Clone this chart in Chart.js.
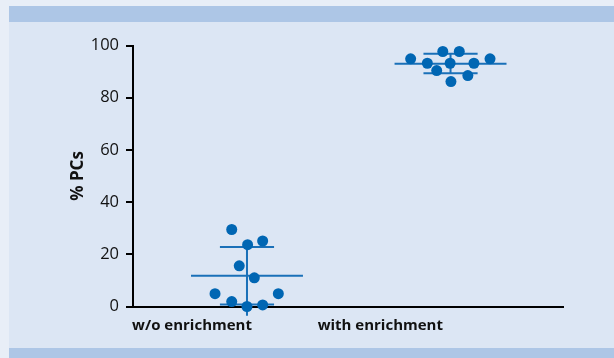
<!DOCTYPE html>
<html>
<head>
<meta charset="utf-8">
<script src="https://cdn.jsdelivr.net/npm/chart.js@4"></script>
<style>
  body { margin: 0; background: #e8eef7; }
  #wrap { position: relative; width: 614px; height: 358px; }
  #panel { position: absolute; left: 9px; top: 6px; right: 0; bottom: 0; background: #dce6f4; }
  #topbar { position: absolute; left: 9px; top: 6px; right: 0; height: 16px; background: #adc6e6; }
  #botbar { position: absolute; left: 9px; top: 348px; right: 0; bottom: 0; background: #adc6e6; }
  canvas { position: absolute; left: 0; top: 0; }
</style>
</head>
<body>
<div id="wrap">
  <div id="panel"></div>
  <div id="topbar"></div>
  <div id="botbar"></div>
  <canvas id="pcs" width="614" height="358"></canvas>
</div>

<script>

/* SCATTER: % PCs with / without enrichment */

const groupLabels = ['w/o enrichment', 'with enrichment'];

// individual values, x = group index + jitter as seen in the picture
const pointsWithout = [
    {x: 0.925, y: 29.5}, {x: 1.003, y: 23.7}, {x: 1.077, y: 25.1},
    {x: 0.962, y: 15.6}, {x: 1.036, y: 11.0}, {x: 0.843, y: 4.9},
    {x: 1.154, y: 4.9},  {x: 0.925, y: 1.9},  {x: 1.0,   y: 0},
    {x: 1.077, y: 0.6}
];
const pointsWith = [
    {x: 1.804, y: 94.9}, {x: 1.886, y: 93.2}, {x: 1.962, y: 97.7},
    {x: 2.043, y: 97.7}, {x: 1.998, y: 93.2}, {x: 1.932, y: 90.4},
    {x: 2.115, y: 93.2}, {x: 2.194, y: 94.9}, {x: 2.085, y: 88.5},
    {x: 2.002, y: 86.2}
];

const means   = [11.8, 93.0];
const sdUpper = [22.8, 96.8];
const sdLower = [0.8, 89.4];
const whiskerEnd = [-3.5, 89.4];   // vertical bar bottom (w/o one runs below the axis)

const yTicks = [0, 20, 40, 60, 80, 100];

const dotColor = '#0066b3';
const barColor = '#1a70b8';
const meanHalf = 0.275;
const capHalf = 0.133;
const labelAt = [0.73, 1.655];

function seg(x1, y1, x2, y2) {
    return {
        type: 'line',
        data: [{x: x1, y: y1}, {x: x2, y: y2}],
        borderColor: barColor,
        borderWidth: 2,
        pointRadius: 0,
        showLine: true,
        clip: false,
        order: 2
    };
}

const datasets = [];
for (let i = 0; i < means.length; i++) {
    const c = i + 1;
    datasets.push(seg(c - meanHalf, means[i], c + meanHalf, means[i]));
    datasets.push(seg(c - capHalf, sdUpper[i], c + capHalf, sdUpper[i]));
    datasets.push(seg(c - capHalf, sdLower[i], c + capHalf, sdLower[i]));
    datasets.push(seg(c, sdUpper[i], c, whiskerEnd[i]));
}
[pointsWithout, pointsWith].forEach(function(pts) {
    datasets.push({
        type: 'scatter',
        data: pts,
        backgroundColor: dotColor,
        borderColor: dotColor,
        borderWidth: 0,
        pointRadius: 5.5,
        clip: false,
        order: 1
    });
});

const ctx = document.getElementById('pcs').getContext('2d');
const chart = new Chart(ctx, {
    type: 'scatter',
    data: { datasets: datasets },
    options: {
        responsive: false,
        animation: false,
        layout: { padding: { left: 58, top: 45.5, right: 50.7, bottom: 0 } },
        plugins: { legend: { display: false }, tooltip: { enabled: false } },
        scales: {
            x: {
                type: 'linear',
                min: 0.44,
                max: 2.554,
                afterBuildTicks: function(s) {
                    s.ticks = labelAt.map(function(v) { return {value: v}; });
                },
                afterFit: function(s) { s.height = 51.5; },
                ticks: {
                    callback: function(v, i) { return groupLabels[i]; },
                    autoSkip: false,
                    maxRotation: 0,
                    padding: 10,
                    color: '#111',
                    font: { family: 'Open Sans', size: 15, weight: 'bold' }
                },
                grid: { display: false, drawTicks: false },
                border: { color: '#000', width: 2 }
            },
            y: {
                min: 0,
                max: 100,
                afterBuildTicks: function(s) {
                    s.ticks = yTicks.map(function(v) { return {value: v}; });
                },
                afterFit: function(s) { s.width = 75; },
                ticks: {
                    padding: 7,
                    color: '#111',
                    font: { family: 'Open Sans', size: 16.5 }
                },
                grid: { drawOnChartArea: false, drawTicks: true, tickLength: 7, color: '#000', lineWidth: 2 },
                border: { color: '#000', width: 2 },
                title: {
                    display: true,
                    text: '% PCs',
                    color: '#111',
                    padding: { top: 10, bottom: 0 },
                    font: { family: 'Open Sans', size: 17, weight: 'bold' }
                }
            }
        }
    }
});

</script>
</body>
</html>
